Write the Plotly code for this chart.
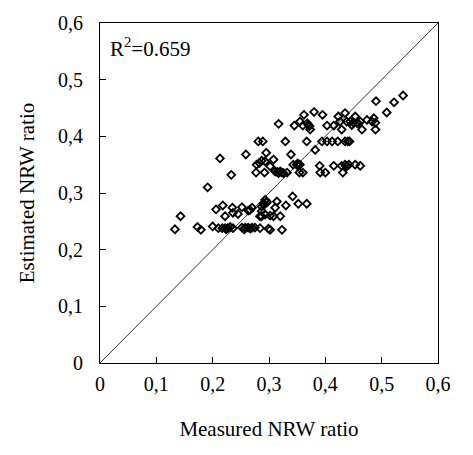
import plotly.graph_objects as go

measured = [
    0.133, 0.143, 0.173, 0.179, 0.191, 0.213, 0.200,
    0.210, 0.217, 0.222, 0.227, 0.236, 0.231, 0.224,
    0.206, 0.218, 0.222, 0.233, 0.235, 0.236, 0.245, 0.252,
    0.259, 0.263, 0.270, 0.266,
    0.252, 0.258, 0.263, 0.270, 0.275, 0.256, 0.267,
    0.277, 0.281, 0.289, 0.295, 0.278, 0.283, 0.287, 0.292,
    0.284, 0.284, 0.287, 0.290, 0.293, 0.296, 0.291,
    0.317, 0.329, 0.345, 0.355, 0.360, 0.362, 0.370, 0.373, 0.372, 0.368,
    0.380, 0.395, 0.367,
    0.394, 0.403, 0.412, 0.422, 0.435, 0.440, 0.443,
    0.382,
    0.403, 0.415, 0.423, 0.426, 0.429, 0.435, 0.438, 0.444, 0.450,
    0.453, 0.456, 0.462, 0.465, 0.474, 0.483, 0.486, 0.489, 0.489,
    0.490, 0.447, 0.459,
    0.509, 0.522, 0.538,
    0.293, 0.302, 0.308, 0.311, 0.317, 0.320, 0.323, 0.326, 0.332,
    0.315, 0.339, 0.343, 0.349, 0.352, 0.355, 0.354, 0.360, 0.351,
    0.390, 0.391, 0.400, 0.415, 0.429, 0.431, 0.435, 0.439, 0.453,
    0.462, 0.442, 0.437,
    0.342, 0.330, 0.352, 0.367, 0.314, 0.311, 0.296, 0.287, 0.287,
    0.302, 0.308, 0.320, 0.302, 0.323, 0.299, 0.293,
]
estimated = [
    0.236, 0.259, 0.240, 0.235, 0.310, 0.361, 0.241,
    0.238, 0.238, 0.238, 0.238, 0.238, 0.240, 0.236,
    0.271, 0.278, 0.259, 0.332, 0.274, 0.265, 0.263, 0.275,
    0.368, 0.269, 0.274, 0.270,
    0.239, 0.239, 0.239, 0.239, 0.239, 0.236, 0.237,
    0.336, 0.391, 0.391, 0.371, 0.350, 0.353, 0.357, 0.336,
    0.238, 0.259, 0.268, 0.282, 0.288, 0.285, 0.279,
    0.422, 0.391, 0.419, 0.426, 0.419, 0.438, 0.420, 0.412, 0.418, 0.423,
    0.443, 0.438, 0.391,
    0.391, 0.391, 0.391, 0.391, 0.391, 0.391, 0.391,
    0.376,
    0.419, 0.419, 0.435, 0.426, 0.412, 0.441, 0.426, 0.426, 0.424,
    0.435, 0.424, 0.426, 0.412, 0.429, 0.426, 0.432, 0.424, 0.412,
    0.462, 0.420, 0.422,
    0.442, 0.460, 0.472,
    0.356, 0.347, 0.359, 0.338, 0.335, 0.338, 0.336, 0.335, 0.336,
    0.337, 0.368, 0.350, 0.350, 0.348, 0.350, 0.336, 0.336, 0.352,
    0.348, 0.336, 0.336, 0.348, 0.348, 0.336, 0.350, 0.348, 0.350,
    0.348, 0.350, 0.347,
    0.294, 0.278, 0.281, 0.281, 0.285, 0.274, 0.283, 0.276, 0.259,
    0.260, 0.259, 0.259, 0.235, 0.235, 0.237, 0.262,
]

line_1to1 = [0, 0.6]

serif = "Liberation Serif"

fig = go.Figure()

# 1:1-Linie
fig.add_trace(go.Scatter(
    x=line_1to1, y=line_1to1, mode="lines",
    line=dict(color="black", width=0.8),
    hoverinfo="skip", showlegend=False,
))

fig.add_trace(go.Scatter(
    x=measured, y=estimated, mode="markers",
    marker=dict(symbol="diamond-open", size=6, color="black",
                line=dict(width=1.8, color="black")),
    showlegend=False,
))

axis_style = dict(
    range=[0, 0.6], dtick=0.1, tick0=0,
    ticks="inside", ticklen=6, tickwidth=1, tickcolor="black",
    showline=True, linecolor="black", linewidth=1.2, mirror=True,
    showgrid=False, zeroline=False, automargin=False,
    tickfont=dict(family=serif, size=20, color="black"),
)

# Seite hat 8px Rand im Body -> Ränder entsprechend kleiner
fig.update_layout(
    width=473, height=455,
    margin=dict(l=92, r=43, t=15, b=100),
    paper_bgcolor="white", plot_bgcolor="white",
    separators=",.",
    xaxis=dict(axis_style, ticklabelstandoff=3,
               title=dict(text="Measured NRW ratio",
                          font=dict(family=serif, size=21, color="black"),
                          standoff=27)),
    yaxis=dict(axis_style, ticklabelstandoff=12,
               title=dict(text="Estimated NRW ratio",
                          font=dict(family=serif, size=21, color="black"),
                          standoff=17)),
    annotations=[dict(
        text="R<sup>2</sup>=0.659", xref="paper", yref="paper",
        x=0.025, y=0.975, xanchor="left", yanchor="top", showarrow=False,
        font=dict(family=serif, size=21, color="black"),
    )],
)

fig.write_html("out.html")
